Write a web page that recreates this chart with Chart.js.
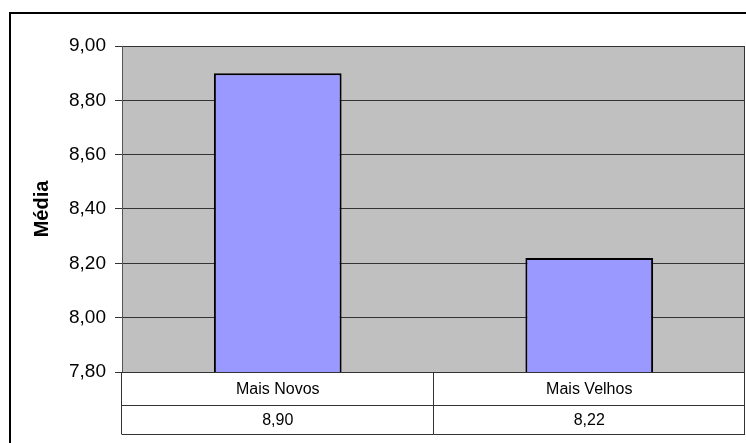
<!DOCTYPE html>
<html>
<head>
<meta charset="utf-8">
<script src="https://cdn.jsdelivr.net/npm/chart.js@4"></script>
<style>
  body { margin: 0; background: #fff; }
  #wrap { width: 746px; height: 443px; }
</style>
</head>
<body>
<div id="wrap"><canvas id="grafico" width="746" height="443"></canvas></div>
<script>
// categorias e médias
const categorias = ["Mais Novos", "Mais Velhos"];
const medias = [8.90, 8.22];

// eixo y
const yMin = 7.8;
const yMax = 9.0;
const yPasso = 0.2;

const FONTE = "'Liberation Sans', Arial, sans-serif";

function formatar(v) {
    // vírgula como separador decimal
    return v.toFixed(2).replace(".", ",");
}

// fundo cinza da área do gráfico + moldura externa
const fundo = {
    id: "fundo",
    beforeDraw(chart) {
        const ctx = chart.ctx;
        const a = chart.chartArea;
        ctx.save();
        ctx.fillStyle = "#ffffff";
        ctx.fillRect(0, 0, chart.width, chart.height);
        ctx.strokeStyle = "#000";
        ctx.lineWidth = 2;
        ctx.strokeRect(10, 13, chart.width + 20, chart.height + 20);
        ctx.fillStyle = "#c0c0c0";
        ctx.fillRect(a.left, a.top, a.right - a.left, a.bottom - a.top);
        ctx.restore();
    }
};

// tabela de dados abaixo do eixo x
const tabela = {
    id: "tabela",
    afterDraw(chart) {
        const ctx = chart.ctx;
        const a = chart.chartArea;
        const x = chart.scales.x;
        const largura = (a.right - a.left) / categorias.length;
        const linhas = [a.bottom, a.bottom + 33, a.bottom + 62];

        ctx.save();
        ctx.strokeStyle = "#333";
        ctx.lineWidth = 1;
        ctx.beginPath();
        // borda direita da área do gráfico
        ctx.moveTo(a.right - 0.5, a.top);
        ctx.lineTo(a.right - 0.5, a.bottom);
        linhas.forEach(y => {
            ctx.moveTo(a.left, Math.round(y) + 0.5);
            ctx.lineTo(a.right, Math.round(y) + 0.5);
        });
        for (let i = 0; i <= categorias.length; i++) {
            let xi = Math.round(a.left + i * largura) - 0.5;
            if (i === categorias.length) xi = a.right - 0.5;
            ctx.moveTo(xi, linhas[0]);
            ctx.lineTo(xi, linhas[2] + 0.5);
        }
        ctx.stroke();

        ctx.fillStyle = "#000";
        ctx.font = "16px " + FONTE;
        ctx.textAlign = "center";
        ctx.textBaseline = "middle";
        categorias.forEach((c, i) => {
            const cx = x.getPixelForValue(i);
            ctx.fillText(c, cx, (linhas[0] + linhas[1]) / 2 + 1);
            ctx.fillText(formatar(medias[i]), cx, (linhas[1] + linhas[2]) / 2 + 1);
        });
        ctx.restore();
    }
};

new Chart(document.getElementById("grafico"), {
    type: "bar",
    data: {
        labels: categorias,
        datasets: [{
            label: "Média",
            data: medias,
            backgroundColor: "#9999ff",
            borderColor: "#000",
            borderWidth: 2,
            categoryPercentage: 0.41,
            barPercentage: 1
        }]
    },
    options: {
        responsive: false,
        devicePixelRatio: 1,
        animation: false,
        layout: { padding: { left: 10, top: 46, right: 1, bottom: 71 } },
        plugins: {
            legend: { display: false },
            tooltip: { enabled: false }
        },
        scales: {
            x: { display: false },
            y: {
                min: yMin,
                max: yMax,
                afterFit(scale) { scale.width = 112; },
                border: { color: "#555", width: 1 },
                grid: {
                    color: "#333",
                    lineWidth: 1,
                    tickLength: 7
                },
                ticks: {
                    stepSize: yPasso,
                    padding: 9,
                    color: "#000",
                    font: { family: FONTE, size: 19 },
                    callback: v => formatar(v)
                },
                title: {
                    display: true,
                    text: "Média",
                    color: "#000",
                    font: { family: FONTE, size: 20, weight: "bold" },
                    padding: { top: 20, bottom: 0 }
                }
            }
        }
    },
    plugins: [fundo, tabela]
});
</script>
</body>
</html>
